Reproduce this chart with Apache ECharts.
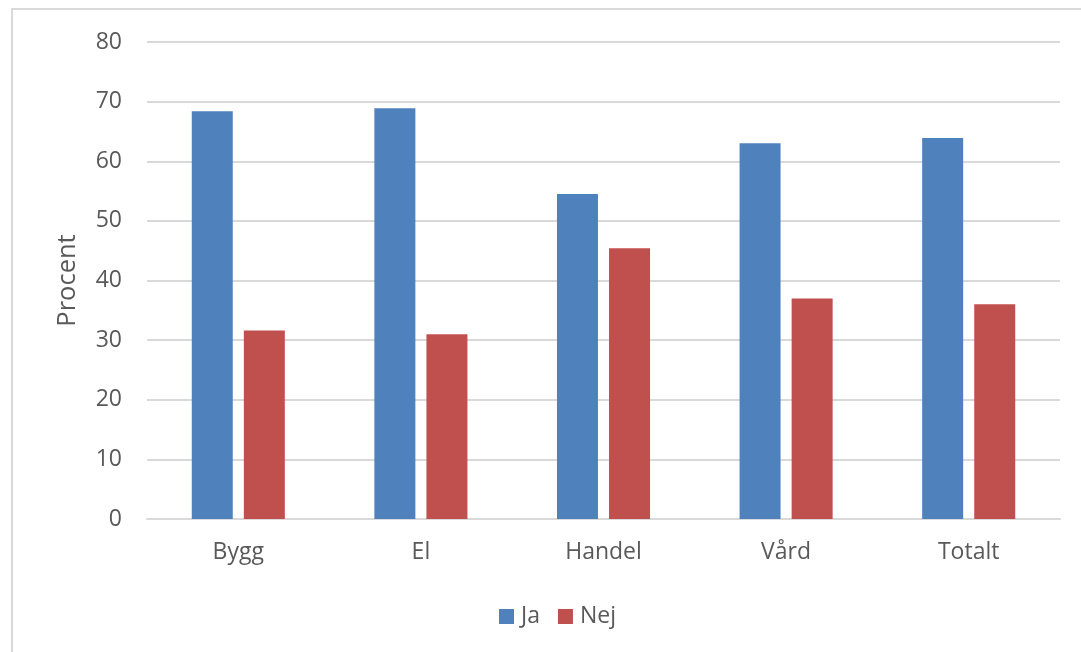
<!DOCTYPE html>
<html>
<head>
<meta charset="utf-8">
<script src="https://cdn.jsdelivr.net/npm/echarts@6/dist/echarts.min.js"></script>
<style>
  html, body { margin: 0; padding: 0; background: #fff; }
  #chart { width: 1081px; height: 652px; }
</style>
</head>
<body>
<div id="chart"></div>
<script>
// Andel svar per bransch (procent)
const categories = ['Bygg', 'El', 'Handel', 'Vård', 'Totalt'];
const jaValues = [68.4, 68.9, 54.5, 63.0, 63.9];
const nejValues = [31.6, 31.0, 45.4, 37.0, 36.0];
const seriesNames = ['Ja', 'Nej'];

const FONT = '"Open Sans", "DejaVu Sans", sans-serif';
const TEXT = '#595959';
const GRID = '#d9d9d9';
const FS = 23;

const chart = echarts.init(document.getElementById('chart'), null, { renderer: 'canvas' });

chart.setOption({
  animation: false,
  backgroundColor: '#ffffff',
  graphic: [{
    type: 'rect',
    shape: { x: 12, y: 9, width: 1200, height: 800 },
    style: { fill: 'none', stroke: GRID, lineWidth: 2 },
    silent: true
  }],
  grid: { left: 147, right: 21, top: 42, bottom: 133, containLabel: false },
  legend: {
    data: seriesNames,
    top: 600,
    left: 494,
    itemWidth: 15,
    itemHeight: 15,
    itemGap: 18,
    icon: 'rect',
    textStyle: { fontFamily: FONT, fontSize: FS, color: TEXT, padding: [0, 0, 0, 2] }
  },
  xAxis: {
    type: 'category',
    data: categories,
    axisLine: { show: true, lineStyle: { color: GRID, width: 2 } },
    axisTick: { show: false },
    axisLabel: { fontFamily: FONT, fontSize: FS, color: TEXT, margin: 22 }
  },
  yAxis: {
    type: 'value',
    min: 0,
    max: 80,
    interval: 10,
    name: 'Procent',
    nameLocation: 'middle',
    nameGap: 66,
    nameRotate: 90,
    nameTextStyle: { fontFamily: FONT, fontSize: 25.5, color: TEXT },
    axisLine: { show: false },
    axisTick: { show: false },
    axisLabel: { fontFamily: FONT, fontSize: FS, color: TEXT, margin: 25 },
    splitLine: { lineStyle: { color: GRID, width: 2 } }
  },
  series: [
    {
      name: seriesNames[0],
      type: 'bar',
      data: jaValues,
      barWidth: 41,
      barGap: '27%',
      itemStyle: { color: '#4f81bd' }
    },
    {
      name: seriesNames[1],
      type: 'bar',
      data: nejValues,
      barWidth: 41,
      barGap: '27%',
      itemStyle: { color: '#c0504d' }
    }
  ]
});
</script>
</body>
</html>
